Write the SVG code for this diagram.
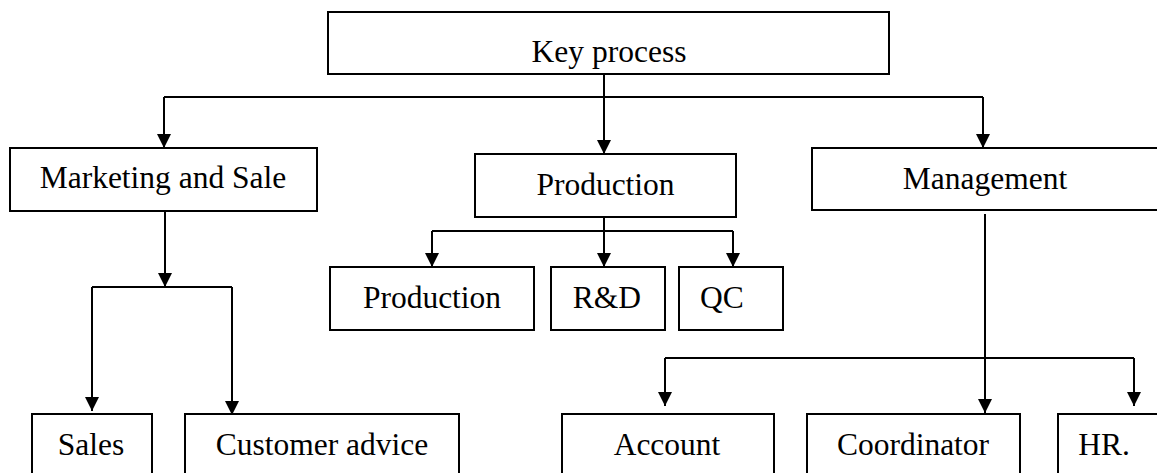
<svg xmlns="http://www.w3.org/2000/svg" width="1157" height="473" viewBox="0 0 1157 473">
<defs>
<style>
.box{fill:#fff;stroke:#000;stroke-width:2}
.lbl{font-family:"Liberation Serif","Times New Roman",serif;font-size:31.5px;fill:#000;text-anchor:middle}
.ln{fill:none;stroke:#000;stroke-width:2}
.ar{fill:none;stroke:#000;stroke-width:2;marker-end:url(#ah)}
</style>
<marker id="ah" markerUnits="userSpaceOnUse" markerWidth="14" markerHeight="14" refX="14" refY="7" orient="auto">
<path d="M0,0 L14,7 L0,14 z" fill="#000"/>
</marker>
</defs>
<rect width="1157" height="473" fill="#fff"/>
<g id="connectors">
<path class="ln" d="M164,97 H983"/>
<path class="ar" d="M164,97 V148"/>
<path class="ar" d="M604,74 V154"/>
<path class="ar" d="M983,97 V148"/>
<path class="ar" d="M604,217 V267"/>
<path class="ln" d="M432,231 H733"/>
<path class="ar" d="M432,231 V267"/>
<path class="ar" d="M733,231 V267"/>
<path class="ar" d="M165,211 V287"/>
<path class="ln" d="M92,287 H232"/>
<path class="ar" d="M92,287 V411"/>
<path class="ar" d="M232,287 V415"/>
<path class="ar" d="M985,214 V413"/>
<path class="ln" d="M665,358 H1134"/>
<path class="ar" d="M665,358 V406"/>
<path class="ar" d="M1134,358 V406"/>
</g>
<g id="key-process"><rect class="box" x="328" y="12" width="561" height="62"/><text class="lbl" x="609" y="62">Key process</text></g>
<g id="marketing"><rect class="box" x="10" y="148" width="307" height="63"/><text class="lbl" x="163" y="188">Marketing and Sale</text></g>
<g id="production"><rect class="box" x="475" y="154" width="261" height="63"/><text class="lbl" x="605.5" y="195">Production</text></g>
<g id="management"><rect class="box" x="812" y="148" width="348" height="62"/><text class="lbl" x="985" y="189">Management</text></g>
<g id="production-sub"><rect class="box" x="330" y="267" width="204" height="63"/><text class="lbl" x="432" y="308">Production</text></g>
<g id="rnd"><rect class="box" x="551" y="267" width="114" height="63"/><text class="lbl" x="607" y="308">R&amp;D</text></g>
<g id="qc"><rect class="box" x="679" y="267" width="104" height="63"/><text class="lbl" x="722" y="308">QC</text></g>
<g id="sales"><rect class="box" x="32" y="414" width="120" height="70"/><text class="lbl" x="91" y="455">Sales</text></g>
<g id="customer-advice"><rect class="box" x="185" y="414" width="274" height="70"/><text class="lbl" x="322" y="455">Customer advice</text></g>
<g id="account"><rect class="box" x="562" y="414" width="212" height="70"/><text class="lbl" x="667" y="455">Account</text></g>
<g id="coordinator"><rect class="box" x="807" y="414" width="213" height="70"/><text class="lbl" x="913" y="455">Coordinator</text></g>
<g id="hr"><rect class="box" x="1058" y="414" width="102" height="70"/><text class="lbl" x="1104" y="455">HR.</text></g>
</svg>
